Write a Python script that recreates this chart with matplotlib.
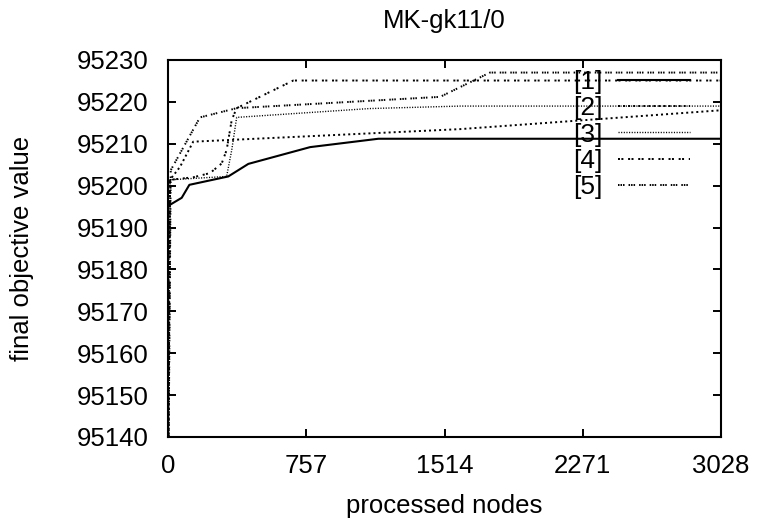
import matplotlib
matplotlib.use("Agg")
import matplotlib.pyplot as plt

plt.rcParams['font.family'] = ['Liberation Sans', 'DejaVu Sans']
plt.rcParams['lines.scale_dashes'] = False

title = "MK-gk11/0"
xlabel = "processed nodes"
ylabel = "final objective value"
labels = ["[1]", "[2]", "[3]", "[4]", "[5]"]
xticks = [0, 757, 1514, 2271, 3028]
yticks = [95140, 95150, 95160, 95170, 95180, 95190, 95200, 95210, 95220, 95230]

x1 = [0, 2, 75, 117, 330, 440, 778, 1152, 3028]
y1 = [95195.0, 95195.2, 95197.1, 95200.2, 95202.2, 95205.2, 95209.2, 95211.2, 95211.2]

x2 = [0, 11, 66, 138, 1600, 3028]
y2 = [95120, 95201.4, 95204.5, 95210.5, 95213.5, 95218.0]

x3 = [0, 11, 321, 349, 376, 1100, 1600, 3028]
y3 = [95120, 95201.4, 95202.2, 95208.5, 95216.3, 95218.4, 95219.0, 95219.0]

x4 = [0, 11, 138, 230, 294, 321, 349, 376, 686, 3028]
y4 = [95120, 95201.4, 95202.0, 95203.0, 95205.3, 95208.5, 95215.7, 95218.5, 95225.1, 95225.1]

x5 = [0, 15, 175, 230, 376, 1490, 1763, 3028]
y5 = [95120, 95203.7, 95216.3, 95216.9, 95218.5, 95221.2, 95227.0, 95227.0]

fs = 18.5

fig = plt.figure(figsize=(7.57, 5.23), dpi=100)
ax = fig.add_axes([168/757, 1-437/523, (721-168)/757, (437-60)/523])

ax.plot(x1, y1, color='black', lw=1.5, ls='-', label=labels[0])
ax.plot(x2, y2, color='black', lw=1.4, ls=(0, (1.44, 2.2)), label=labels[1])
ax.plot(x3, y3, color='black', lw=1.0, ls=(0, (0.8, 1.1)), label=labels[2])
ax.plot(x4, y4, color='black', lw=1.4, ls=(0, (1.44, 1.0, 1.44, 3.4)), label=labels[3])
ax.plot(x5, y5, color='black', lw=1.4, ls=(0, (1.1, 0.7, 1.1, 0.7, 1.1, 2.9)), label=labels[4])

ax.set_xlim(0, 3028)
ax.set_ylim(95140, 95230)
ax.set_xticks(xticks)
ax.set_yticks(yticks)
ax.set_xticklabels([str(v) for v in xticks])
ax.set_yticklabels([str(v) for v in yticks])
ax.tick_params(direction='in', length=6, width=1.4, top=True, right=True,
               labelsize=fs, pad=12)
ax.tick_params(axis='y', pad=14)
for s in ax.spines.values():
    s.set_linewidth(1.5)

ax.set_title(title, fontsize=fs, pad=23)
ax.set_xlabel(xlabel, fontsize=fs, labelpad=12)
ax.set_ylabel(ylabel, fontsize=fs, labelpad=31)

leg = ax.legend(loc='upper right', bbox_to_anchor=((690-168)/553, 0.974), frameon=False,
                markerfirst=False, fontsize=19, handlelength=2.73,
                labelspacing=0.09, handletextpad=0.58, borderaxespad=0, borderpad=0)

fig.savefig("out.png", dpi=100)
